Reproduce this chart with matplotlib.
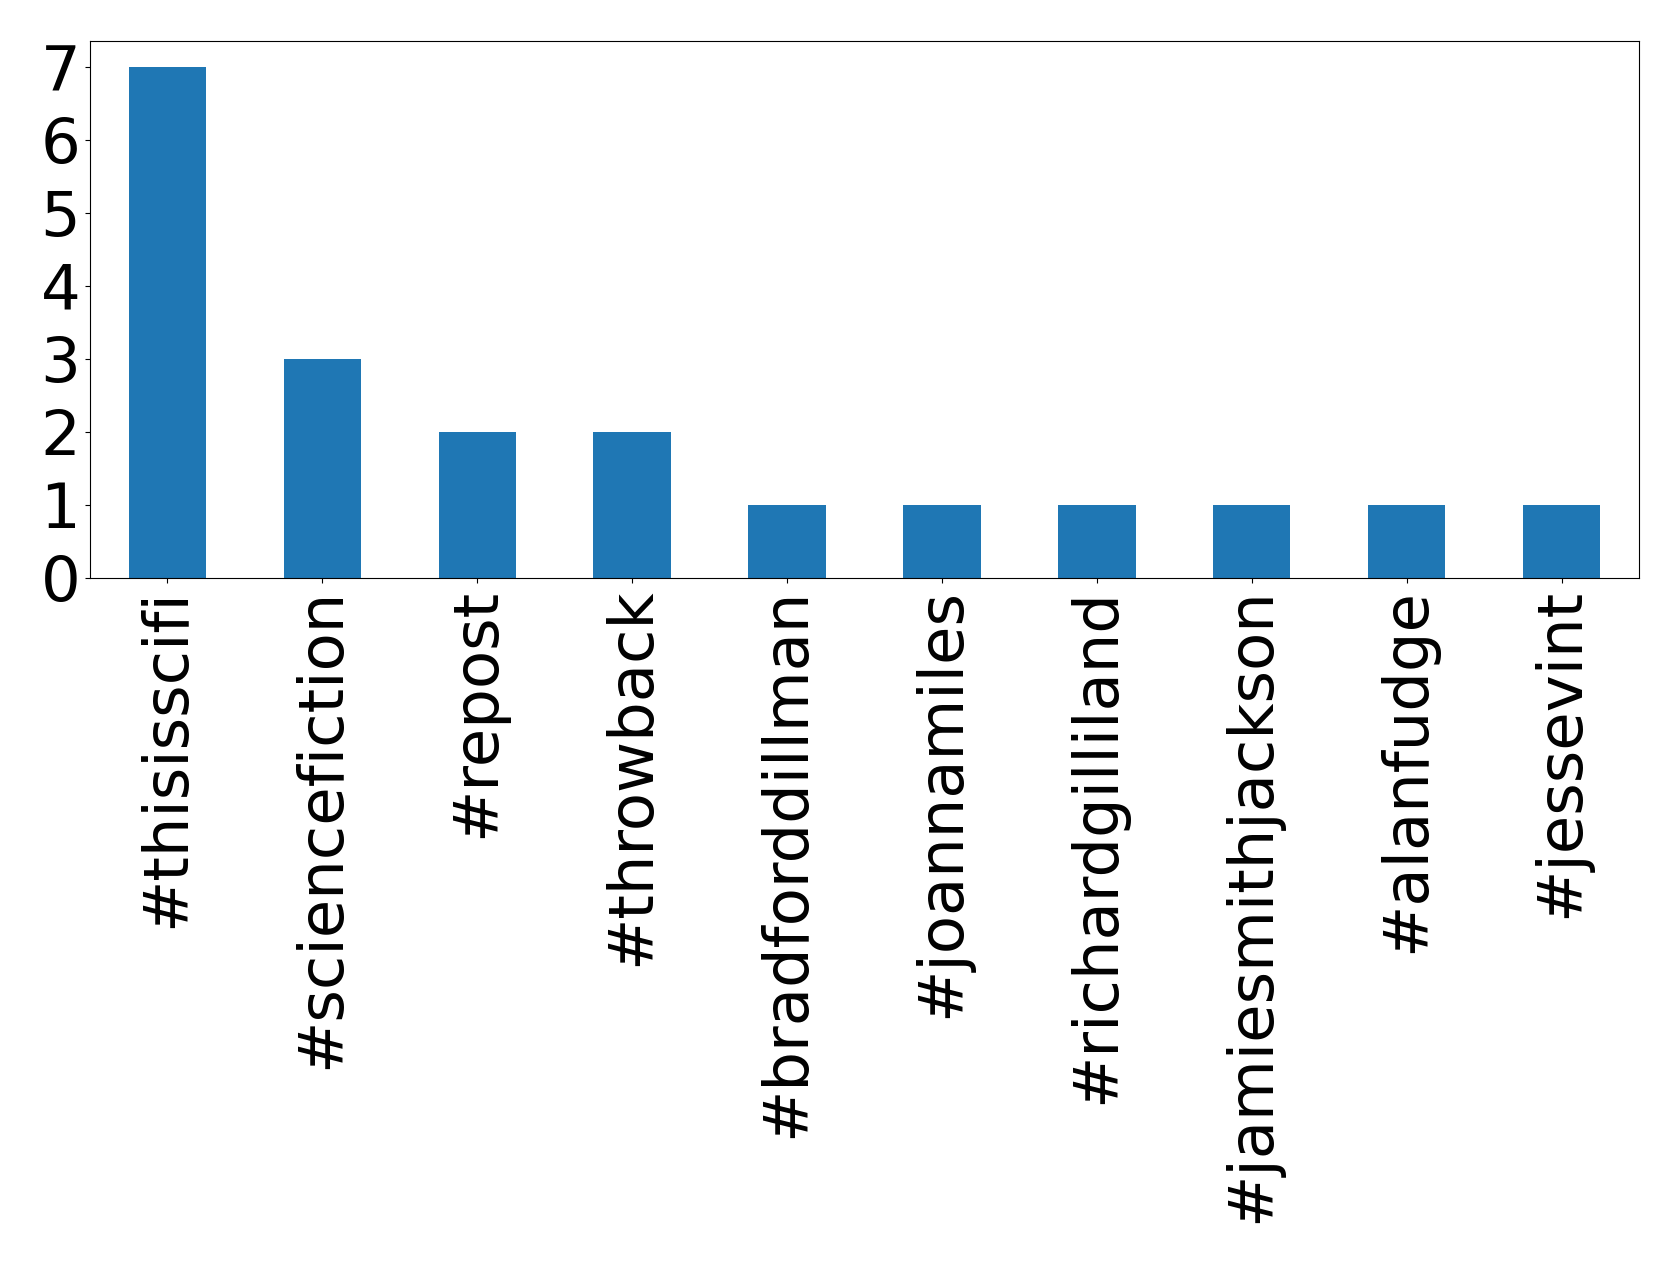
import matplotlib
matplotlib.use('Agg')
import matplotlib.pyplot as plt
import pandas as pd

hashtags = ['#thisisscifi', '#sciencefiction', '#repost', '#throwback', '#bradforddillman',
            '#joannamiles', '#richardgilliland', '#jamiesmithjackson', '#alanfudge', '#jessevint']
counts = [7, 3, 2, 2, 1, 1, 1, 1, 1, 1]
yticks = list(range(0, 8))

series = pd.Series(counts, index=hashtags)

fig = plt.figure(figsize=(16.79, 12.64), dpi=100)
ax = fig.add_axes([90 / 1679, 1 - 578 / 1264, (1639 - 90) / 1679, (578 - 41) / 1264])
series.plot(kind='bar', ax=ax, color='#1f77b4')
ax.set_yticks(yticks)
ax.tick_params(axis='both', labelsize=45)

fig.savefig('out.png', dpi=100)
